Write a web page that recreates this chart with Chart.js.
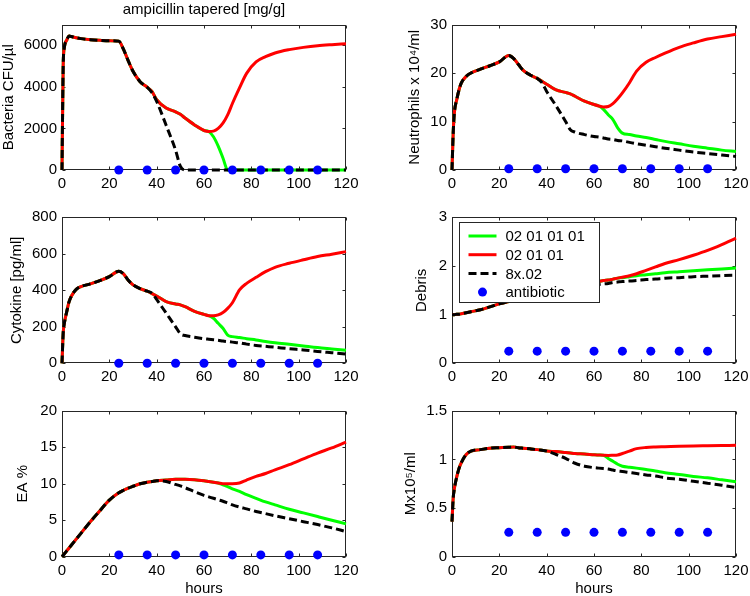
<!DOCTYPE html>
<html><head><meta charset="utf-8">
<script src="https://cdn.jsdelivr.net/npm/chart.js@4/dist/chart.umd.min.js"></script>
<style>
html,body{margin:0;padding:0;background:#fff;}
body{width:750px;height:596px;position:relative;overflow:hidden;}
canvas{position:absolute;}
</style></head><body>
<canvas id="c1"></canvas><canvas id="c2"></canvas><canvas id="c3"></canvas>
<canvas id="c4"></canvas><canvas id="c5"></canvas><canvas id="c6"></canvas>
<script>
// ---------- data ----------
const hours = [0,0.5,1,2,3,4,6,8,12,16,20,24,26,28,30,33,36,38,40,44,48,50,52,56,60,62,64,66,68,70,72,75,78,82,86,90,96,102,108,114,120];
const hourTicks = [0,20,40,60,80,100,120];
const doseHours = [24,36,48,60,72,84,96,108];
const doseLevel = [0.25,0.25,0.25,0.25,0.25,0.25,0.25,0.25];
const seriesNames = ['02 01 01 01','02 01 01','8x.02','antibiotic'];
const figureTitle = 'ampicillin tapered [mg/g]';

const bacteriaRed   = [0,5000,5900,6250,6450,6420,6360,6320,6270,6240,6220,6200,5800,5250,4750,4250,3980,3780,3380,2980,2800,2680,2500,2170,1900,1850,1870,2000,2250,2650,3200,3950,4650,5200,5450,5630,5790,5900,5980,6030,6070];
const bacteriaGreen = [0,5000,5900,6250,6450,6420,6360,6320,6270,6240,6220,6200,5800,5250,4750,4250,3980,3780,3380,2980,2800,2680,2500,2170,1900,1850,1600,1150,580,0,0,0,0,0,0,0,0,0,0,0,0];
const bacteriaBlack = [0,5000,5900,6250,6450,6420,6360,6320,6270,6240,6220,6200,5800,5250,4750,4250,3980,3720,3300,2150,950,180,0,0,0,0,0,0,0,0,0,0,0,0,0,0,0,0,0,0,0];
const bacteriaTicks = [0,2000,4000,6000];

const neutroRed   = [0,7.6,11.8,14.5,16.6,18,19.3,20,20.8,21.5,22.3,23.6,23.0,21.8,20.6,19.6,18.9,18.3,17.7,16.5,16.0,15.7,15.2,14.2,13.5,13.2,13.0,13.1,13.7,14.7,15.9,18.0,20.4,22.2,23.2,24.1,25.3,26.2,27.0,27.5,28.0];
const neutroGreen = [0,7.6,11.8,14.5,16.6,18,19.3,20,20.8,21.5,22.3,23.6,23.0,21.8,20.6,19.6,18.9,18.3,17.7,16.5,16.0,15.7,15.2,14.2,13.5,13.2,12.5,11.4,10.4,8.7,7.6,7.3,7.0,6.7,6.3,5.9,5.4,4.9,4.5,4.1,3.8];
const neutroBlack = [0,7.6,11.8,14.5,16.6,18,19.3,20,20.8,21.5,22.3,23.6,23.0,21.8,20.6,19.6,18.9,18.0,16.2,13.2,10.0,8.3,7.8,7.3,6.9,6.8,6.6,6.4,6.3,6.1,6.0,5.7,5.4,5.1,4.8,4.5,4.1,3.7,3.4,3.1,2.8];
const neutroTicks = [0,10,20,30];

const cytoRed   = [0,165,220,283,338,369,405,420,435,453,475,504,490,455,430,409,395,382,369,338,325,320,310,285,268,261,260,265,278,301,332,402,438,471,502,526,548,567,585,598,612];
const cytoGreen = [0,165,220,283,338,369,405,420,435,453,475,504,490,455,430,409,395,382,369,338,325,320,310,285,268,261,247,219,192,155,146,141,135,128,120,113,104,95,86,79,72];
const cytoBlack = [0,165,220,283,338,369,405,420,435,453,475,504,490,455,430,409,395,385,350,275,200,162,152,143,135,132,129,126,122,119,116,112,105,98,93,88,80,73,65,58,51];
const cytoTicks = [0,200,400,600,800];

const debrisRed   = [1.0,1.0,1.0,1.01,1.01,1.02,1.04,1.06,1.1,1.16,1.22,1.27,1.29,1.31,1.34,1.37,1.41,1.43,1.45,1.49,1.53,1.55,1.57,1.61,1.65,1.68,1.70,1.71,1.73,1.75,1.77,1.80,1.84,1.91,1.98,2.05,2.13,2.22,2.32,2.44,2.57];
const debrisGreen = [1.0,1.0,1.0,1.01,1.01,1.02,1.04,1.06,1.1,1.16,1.22,1.27,1.29,1.31,1.34,1.37,1.41,1.43,1.45,1.49,1.53,1.55,1.57,1.61,1.65,1.68,1.70,1.71,1.73,1.75,1.76,1.78,1.80,1.82,1.84,1.86,1.88,1.90,1.92,1.94,1.96];
const debrisBlack = [1.0,1.0,1.0,1.01,1.01,1.02,1.04,1.06,1.1,1.16,1.22,1.27,1.29,1.31,1.33,1.36,1.39,1.41,1.43,1.47,1.51,1.53,1.55,1.58,1.61,1.62,1.63,1.64,1.66,1.67,1.68,1.69,1.70,1.72,1.73,1.75,1.76,1.78,1.79,1.80,1.81];
const debrisTicks = [0,1,2,3];

const eaRed   = [0,0.2,0.4,0.8,1.2,1.6,2.4,3.2,4.8,6.3,7.75,8.75,9.1,9.4,9.65,10.0,10.2,10.3,10.4,10.5,10.6,10.6,10.6,10.55,10.4,10.3,10.2,10.1,10.0,10.0,10.0,10.1,10.5,11.0,11.4,11.9,12.6,13.4,14.2,14.9,15.7];
const eaGreen = [0,0.2,0.4,0.8,1.2,1.6,2.4,3.2,4.8,6.3,7.75,8.75,9.1,9.4,9.65,10.0,10.2,10.3,10.4,10.5,10.6,10.6,10.6,10.55,10.4,10.3,10.2,10.1,9.85,9.6,9.3,8.95,8.5,8.0,7.5,7.1,6.5,6.0,5.5,5.0,4.5];
const eaBlack = [0,0.2,0.4,0.8,1.2,1.6,2.4,3.2,4.8,6.3,7.75,8.75,9.1,9.4,9.65,10.0,10.2,10.3,10.4,10.3,9.9,9.7,9.45,8.9,8.4,8.2,8.0,7.8,7.6,7.35,7.1,6.8,6.55,6.2,5.9,5.6,5.2,4.8,4.4,3.95,3.45];
const eaTicks = [0,5,10,15,20];

const mxRed   = [0.36,0.6,0.70,0.82,0.91,0.97,1.05,1.085,1.10,1.115,1.12,1.125,1.127,1.12,1.115,1.108,1.10,1.093,1.085,1.08,1.07,1.065,1.06,1.055,1.048,1.045,1.042,1.04,1.042,1.045,1.06,1.085,1.11,1.122,1.127,1.13,1.135,1.138,1.14,1.142,1.144];
const mxGreen = [0.36,0.6,0.70,0.82,0.91,0.97,1.05,1.085,1.10,1.115,1.12,1.125,1.127,1.12,1.115,1.108,1.10,1.093,1.085,1.08,1.07,1.065,1.06,1.055,1.048,1.045,1.042,1.01,0.98,0.95,0.93,0.92,0.91,0.895,0.88,0.863,0.845,0.825,0.81,0.79,0.77];
const mxBlack = [0.36,0.6,0.70,0.82,0.91,0.97,1.05,1.085,1.10,1.115,1.12,1.125,1.127,1.12,1.115,1.108,1.10,1.093,1.085,1.05,1.01,0.985,0.96,0.93,0.915,0.91,0.905,0.90,0.89,0.88,0.875,0.865,0.855,0.84,0.83,0.81,0.795,0.775,0.755,0.735,0.71];
const mxTicks = [0,0.5,1,1.5];

// ---------- rendering ----------
Chart.defaults.font.family = "'Liberation Sans', Arial, Helvetica, sans-serif";
Chart.defaults.font.size = 15;
Chart.defaults.color = '#000';
const FONT = {size:15, lineHeight:1.2, weight:'normal'};

const panels = [
  {id:'c1', left:0,   top:0,   w:360, h:195, padTop:0,    yw:62, xh:25,   ymax:7000, ticks:bacteriaTicks, g:bacteriaGreen, r:bacteriaRed, k:bacteriaBlack, ylab:'Bacteria CFU/µl', yTitlePad:0,  title:true},
  {id:'c2', left:375, top:0,   w:375, h:195, padTop:24.5, yw:77, xh:25,   ymax:30,   ticks:neutroTicks,   g:neutroGreen,   r:neutroRed,   k:neutroBlack,   ylab:'Neutrophils x 10⁴/ml', yTitlePad:31},
  {id:'c3', left:0,   top:195, w:360, h:193, padTop:22.3, yw:62, xh:24.7, ymax:800,  ticks:cytoTicks,     g:cytoGreen,     r:cytoRed,     k:cytoBlack,     ylab:'Cytokine [pg/ml]', yTitlePad:7.7},
  {id:'c4', left:375, top:195, w:375, h:193, padTop:22.3, yw:77, xh:24.7, ymax:3,    ticks:debrisTicks,   g:debrisGreen,   r:debrisRed,   k:debrisBlack,   ylab:'Debris', yTitlePad:37.7, legend:true},
  {id:'c5', left:0,   top:388, w:360, h:208, padTop:22.7, yw:62, xh:39.3, ymax:20,   ticks:eaTicks,       g:eaGreen,       r:eaRed,       k:eaBlack,       ylab:'EA %', yTitlePad:14.3, hours:true},
  {id:'c6', left:375, top:388, w:375, h:208, padTop:22.7, yw:77, xh:39.3, ymax:1.5,  ticks:mxTicks,       g:mxGreen,       r:mxRed,       k:mxBlack,       ylab:'Mx10⁵/ml', yTitlePad:27, hours:true}
];

const framePlugin = {
  id:'frame',
  beforeDatasetsDraw(chart){
    const {ctx, chartArea:a, scales:{x,y}} = chart;
    ctx.save();
    ctx.strokeStyle = '#262626'; ctx.lineWidth = 1;
    const L = Math.round(a.left)+0.5, T = Math.round(a.top)+0.5, R = Math.round(a.right)-0.5, B = Math.round(a.bottom)-0.5;
    ctx.strokeRect(L, T, R-L, B-T);
    ctx.beginPath();
    x.ticks.forEach(t => { const px = Math.round(x.getPixelForValue(t.value))+0.5;
      ctx.moveTo(px,B); ctx.lineTo(px,B-3); ctx.moveTo(px,T); ctx.lineTo(px,T+3); });
    y.ticks.forEach(t => { const py = Math.round(y.getPixelForValue(t.value))+0.5;
      ctx.moveTo(L,py); ctx.lineTo(L+3,py); ctx.moveTo(R,py); ctx.lineTo(R-3,py); });
    ctx.stroke();
    ctx.restore();
  },
  afterDatasetsDraw(chart, args, opts){
    if (!opts || !opts.legend) return;
    const {ctx, chartArea:a} = chart;
    const bx = Math.round(a.left)+7.5, by = Math.round(a.top)+5.5, bw = 140, bh = 80;
    ctx.save();
    ctx.fillStyle = '#fff'; ctx.fillRect(bx,by,bw,bh);
    ctx.strokeStyle = '#262626'; ctx.lineWidth = 1; ctx.strokeRect(bx,by,bw,bh);
    const ds = chart.data.datasets;
    ctx.font = "15px 'Liberation Sans', Arial, sans-serif";
    ctx.textBaseline = 'middle'; ctx.textAlign = 'left';
    ds.forEach((d,i) => {
      const cy = by + 13.5 + i*18.7;
      if (d.showLine === false) {
        ctx.fillStyle = d.backgroundColor;
        ctx.beginPath(); ctx.arc(bx+23, cy, d.pointRadius, 0, Math.PI*2); ctx.fill();
      } else {
        ctx.strokeStyle = d.borderColor; ctx.lineWidth = d.borderWidth;
        ctx.setLineDash(d.borderDash || []);
        ctx.beginPath(); ctx.moveTo(bx+9, cy); ctx.lineTo(bx+37, cy); ctx.stroke();
        ctx.setLineDash([]);
      }
      ctx.fillStyle = '#000';
      ctx.fillText(d.label, bx+46, cy+1);
    });
    ctx.restore();
  }
};

function lineSet(label, ys, color, dash, order){
  return {label, data: hours.map((h,i)=>({x:h, y:ys[i]})), borderColor:color, backgroundColor:color,
    borderWidth:3, borderDash:dash, pointRadius:0, pointHoverRadius:0, cubicInterpolationMode:'monotone',
    fill:false, order, clip:false};
}

panels.forEach(p => {
  const cv = document.getElementById(p.id);
  cv.width = p.w; cv.height = p.h;
  cv.style.left = p.left+'px'; cv.style.top = p.top+'px';
  cv.style.width = p.w+'px'; cv.style.height = p.h+'px';
  const datasets = [
    lineSet(seriesNames[0], p.g, '#00ff00', [], 3),
    lineSet(seriesNames[1], p.r, '#ff0000', [], 2),
    lineSet(seriesNames[2], p.k, '#000000', [8,4], 1),
    {label:seriesNames[3], data: doseHours.map((h,i)=>({x:h, y:doseLevel[i]})), showLine:false,
     pointRadius:4.5, pointHoverRadius:4.5, pointBorderWidth:0, backgroundColor:'#0000ff', borderColor:'#0000ff', order:0, clip:false}
  ];
  new Chart(cv, {
    type:'line',
    data:{datasets},
    options:{
      responsive:false, animation:false, events:[],
      layout:{padding:{top:p.padTop, left:0, right:14, bottom:0}},
      plugins:{
        legend:{display:false}, tooltip:{enabled:false},
        title:{display:!!p.title, text:figureTitle, fullSize:false, font:FONT, color:'#000', padding:{top:1, bottom:5.5}},
        frame:{legend:!!p.legend}
      },
      scales:{
        x:{type:'linear', min:0, max:120,
           afterBuildTicks: s => { s.ticks = hourTicks.map(v=>({value:v})); },
           ticks:{font:FONT, color:'#000', padding:5, maxRotation:0, autoSkip:false, callback:v=>String(v)},
           grid:{display:false, drawTicks:false}, border:{display:false},
           title:{display:!!p.hours, text:'hours', font:{size:15, lineHeight:1, weight:'normal'}, color:'#000', padding:{top:0, bottom:0}},
           afterFit: s => { s.height = p.xh; s.paddingLeft = 0; s.paddingRight = 0; }
        },
        y:{type:'linear', min:0, max:p.ymax,
           afterBuildTicks: s => { s.ticks = p.ticks.map(v=>({value:v})); },
           ticks:{font:FONT, color:'#000', padding:5, autoSkip:false, callback:v=>String(v)},
           grid:{display:false, drawTicks:false}, border:{display:false},
           title:{display:true, text:p.ylab, font:FONT, color:'#000', padding:{top:p.yTitlePad, bottom:0}},
           afterFit: s => { s.width = p.yw; s.paddingTop = 0; s.paddingBottom = 0; }
        }
      }
    },
    plugins:[framePlugin]
  });
});
</script>
</body></html>
